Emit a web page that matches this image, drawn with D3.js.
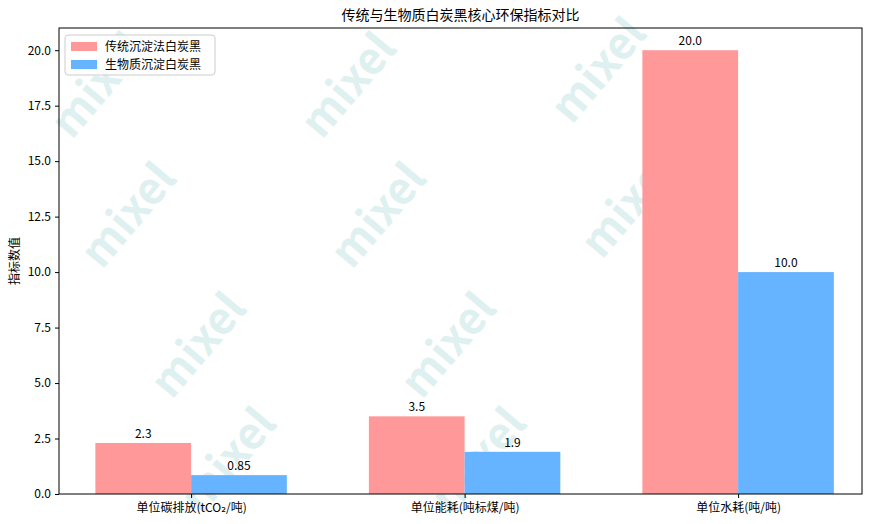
<!DOCTYPE html>
<html><head><meta charset="utf-8">
<script src="https://cdn.jsdelivr.net/npm/d3@7"></script>
<style>body{margin:0;background:#fff}text{font-family:"Noto Sans CJK SC","DejaVu Sans",sans-serif}</style>
</head><body><svg id="c" width="880" height="524"></svg>
<script>
const categories = ["单位碳排放(tCO₂/吨)", "单位能耗(吨标煤/吨)", "单位水耗(吨/吨)"];
const traditional = [2.3, 3.5, 20.0];
const biomass = [0.85, 1.9, 10.0];
const tradLabels = ["2.3", "3.5", "20.0"];
const bioLabels = ["0.85", "1.9", "10.0"];
const yTicks = [0, 2.5, 5, 7.5, 10, 12.5, 15, 17.5, 20];
const seriesNames = ["传统沉淀法白炭黑", "生物质沉淀白炭黑"];
const colors = ["#ff9999", "#66b3ff"];

const svg = d3.select("#c");
const L = 59, R = 862, T = 28, B = 494;
const x = d3.scaleLinear().domain([-0.483, 2.453]).range([L, R]);
const y = d3.scaleLinear().domain([0, 21]).range([B, T]);
const w = 0.35;

// watermark (kept inside the picture)
const wm = svg.append("g");
const wmPos = [[110,95],[360,95],[610,80],[140,225],[390,225],[640,215],[210,355],[460,355],[700,345],[240,470],[490,470]];
wmPos.forEach(([cx, cy]) => {
  wm.append("text").attr("transform", `translate(${cx},${cy}) rotate(-50)`)
    .attr("text-anchor", "middle").attr("font-size", 44).attr("font-weight", "bold")
    .attr("fill", "#b9dede").attr("opacity", 0.45).text("mixel");
});

const g = svg.append("g");
const series = [traditional, biomass];
const labs = [tradLabels, bioLabels];
series.forEach((vals, s) => {
  vals.forEach((v, i) => {
    const x0 = x(i + (s === 0 ? -w : 0)), x1 = x(i + (s === 0 ? 0 : w));
    g.append("rect").attr("x", x0).attr("width", x1 - x0).attr("y", y(v)).attr("height", y(0) - y(v)).attr("fill", colors[s]);
    g.append("text").attr("x", (x0 + x1) / 2).attr("y", y(v) - 5).attr("text-anchor", "middle")
      .attr("font-size", 12).text(labs[s][i]);
  });
});

svg.append("rect").attr("x", L).attr("y", T).attr("width", R - L).attr("height", B - T)
  .attr("fill", "none").attr("stroke", "#000").attr("stroke-width", 1);

const ya = svg.append("g").attr("transform", `translate(${L},0)`)
  .call(d3.axisLeft(y).tickValues(yTicks).tickFormat(d3.format(".1f")).tickSize(4).tickPadding(4));
ya.select(".domain").remove();
ya.selectAll("text").attr("font-size", 12).attr("fill", "#000");
const xa = svg.append("g").attr("transform", `translate(0,${B})`)
  .call(d3.axisBottom(x).tickValues([0, 1, 2]).tickFormat(i => categories[i]).tickSize(4).tickPadding(5));
xa.select(".domain").remove();
xa.selectAll("text").attr("font-size", 12).attr("fill", "#000");

svg.append("text").attr("x", (L + R) / 2).attr("y", 20).attr("text-anchor", "middle").attr("font-size", 14).text("传统与生物质白炭黑核心环保指标对比");
svg.append("text").attr("transform", `translate(19,${(T + B) / 2}) rotate(-90)`).attr("text-anchor", "middle").attr("font-size", 12).text("指标数值");

const lg = svg.append("g").attr("transform", "translate(65,35)");
lg.append("rect").attr("width", 150).attr("height", 40).attr("rx", 3).attr("fill", "#fff").attr("fill-opacity", 0.8).attr("stroke", "#ccc");
seriesNames.forEach((n, i) => {
  lg.append("rect").attr("x", 6).attr("y", 7 + i * 18).attr("width", 26).attr("height", 9).attr("fill", colors[i]);
  lg.append("text").attr("x", 40).attr("y", 16 + i * 18).attr("font-size", 12).text(n);
});
</script></body></html>
